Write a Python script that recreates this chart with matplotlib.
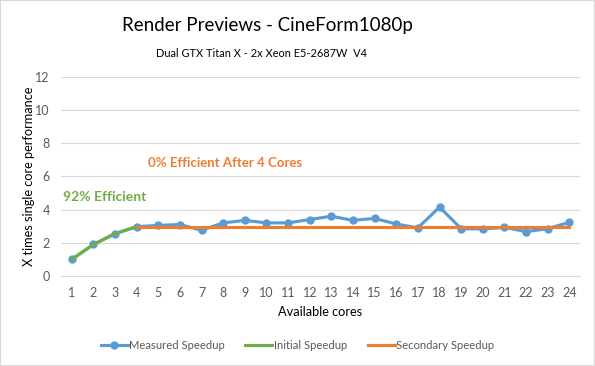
import matplotlib.pyplot as plt
from matplotlib.patches import Rectangle

plt.rcParams['font.family'] = ['Lato', 'DejaVu Sans']

# data
cores = list(range(1, 25))
measured = [1.0, 1.9, 2.55, 2.97, 3.05, 3.1, 2.75, 3.2, 3.35, 3.2, 3.2, 3.4,
            3.6, 3.35, 3.47, 3.13, 2.9, 4.15, 2.85, 2.83, 2.93, 2.67, 2.85, 3.23]
initial_cores = [1, 2, 3, 4]
initial = [1.0, 1.9, 2.55, 2.97]
secondary_cores = list(range(4, 25))
secondary = [2.97] * len(secondary_cores)
yticks = [0, 2, 4, 6, 8, 10, 12]

blue = '#5B9BD5'
green = '#70AD47'
orange = '#ED7D31'
grey = '#595959'

fig = plt.figure(figsize=(5.95, 3.66), dpi=100)
ax = fig.add_axes([0.1025, 0.246, 0.8725, 0.544])

ax.plot(cores, measured, color=blue, lw=2.25, marker='o', ms=5,
        label='Measured Speedup', zorder=3)
ax.plot(initial_cores, initial, color=green, lw=2.25, label='Initial Speedup', zorder=4)
ax.plot(secondary_cores, secondary, color=orange, lw=2.25, label='Secondary Speedup', zorder=4)

ax.set_xlim(0.5, 24.5)
ax.set_ylim(0, 12)
ax.set_xticks(cores)
ax.set_yticks(yticks)
ax.tick_params(length=0, labelsize=9, colors=grey, pad=8)
ax.grid(axis='y', color='#D9D9D9', lw=0.8)
ax.set_axisbelow(True)
for s in ['top', 'right', 'left']:
    ax.spines[s].set_visible(False)
ax.spines['bottom'].set_color('#D9D9D9')

ax.set_xlabel('Available cores', fontsize=9.2, color='black', labelpad=5)
ax.set_ylabel('X times single core performance', fontsize=9.2, color='black', labelpad=0)

ax.text(0.59, 4.76, '92% Efficient', color=green, fontsize=10, fontweight='bold', va='center')
ax.text(4.53, 6.8, '0% Efficient After 4 Cores', color=orange, fontsize=9.5,
        fontweight='bold', va='center')

fig.text(0.449, 0.929, 'Render Previews - CineForm1080p', ha='center', va='center', fontsize=13.5)
fig.text(0.439, 0.855, 'Dual GTX Titan X - 2x Xeon E5-2687W  V4', ha='center', va='center', fontsize=7.9)

fig.legend(loc='center', bbox_to_anchor=(0.5, 0.057), ncol=3, frameon=False,
           fontsize=8.1, handlelength=2.4, columnspacing=1.8, handletextpad=0.15,
           labelcolor=grey)

fig.patches.append(Rectangle((0, 0), 1, 1, transform=fig.transFigure,
                             fill=False, edgecolor='#D9D9D9', lw=1.5))

fig.savefig('out.png', dpi=100)
